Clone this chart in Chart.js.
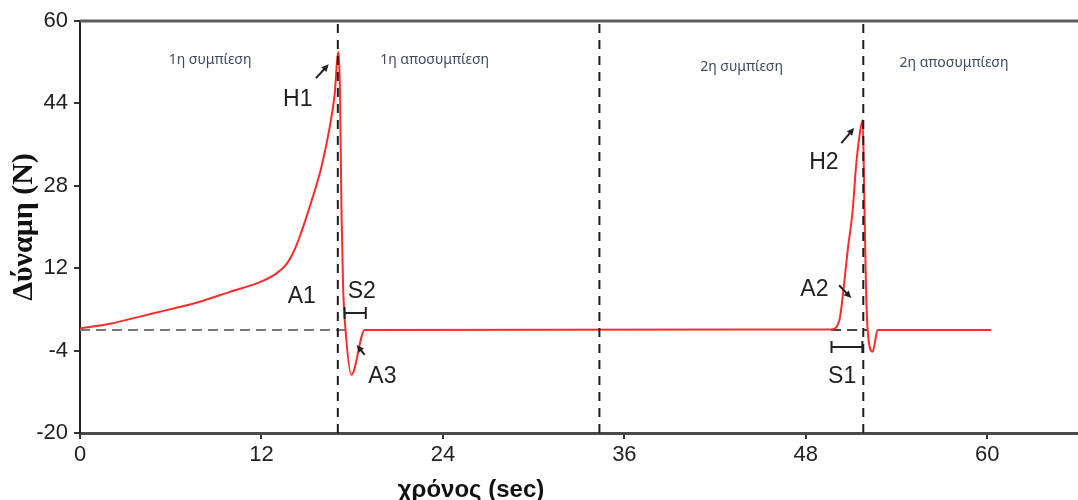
<!DOCTYPE html>
<html>
<head>
<meta charset="utf-8">
<script src="https://cdn.jsdelivr.net/npm/chart.js@4.4.1/dist/chart.umd.min.js"></script>
<style>
html, body { margin: 0; padding: 0; background: #fff; }
#wrap { width: 1078px; height: 500px; }
</style>
</head>
<body>
<div id="wrap"><canvas id="tpaChart"></canvas></div>
<script>
// texture profile curve
const timeSec = [0, 1.98, 3.96, 5.95, 7.93, 9.91, 11.9, 13.0, 13.66, 14.1, 14.54, 15.2,
    15.97, 16.52, 16.85, 17.07, 17.2, 17.29, 17.4, 17.56, 17.95, 18.83,
    49.67, 50.22, 50.44, 50.77, 51.1, 51.32, 51.54, 51.76, 51.87, 51.98, 52.09, 52.42, 52.75, 60.26];
const forceN = [0.3, 1.2, 2.6, 4.0, 5.5, 7.4, 9.3, 11.0, 12.8, 15.0, 18.2, 24.0,
    31.7, 39.5, 46.0, 54.0, 45.3, 23.3, 8.4, 0, -8.7, 0,
    0.1, 1.9, 6.5, 15.5, 23.3, 31.7, 37.5, 40.8, 25.2, 8.4, 0, -4.2, 0, 0];

const phaseBoundaries = [17.05, 34.35, 51.8];
const phaseNames = ['1η συμπίεση', '1η αποσυμπίεση', '2η συμπίεση', '2η αποσυμπίεση'];
const baselineSpans = [[0, 17.56], [49.67, 52.09]];

const xTicks = [0, 12, 24, 36, 48, 60];
const yTicks = [-20, -4, 12, 28, 44, 60];

// where the notes go (data units)
const phaseLabelPos = [[8.6, 52.4], [23.45, 52.4], [43.75, 51.1], [57.8, 51.8]];
const letterNotes = [
    { text: 'H1', at: [14.4, 44.7] },
    { text: 'A1', at: [14.67, 6.4] },
    { text: 'S2', at: [18.63, 7.4] },
    { text: 'A3', at: [20.0, -9.1] },
    { text: 'H2', at: [49.2, 32.4] },
    { text: 'A2', at: [48.57, 7.8] },
    { text: 'S1', at: [50.4, -9.1] }
];
const arrows = [
    { from: [15.6, 48.9], to: [16.45, 51.6] },
    { from: [18.83, -4.85], to: [18.3, -2.9] },
    { from: [50.35, 36.3], to: [51.2, 39.2] },
    { from: [50.2, 8.7], to: [51.0, 6.2] }
];
const brackets = [
    { x0: 17.5, x1: 18.9, y: 3.3 },
    { x0: 49.7, x1: 51.74, y: -3.3 }
];

const tickFont = { family: "'Liberation Sans Narrow', 'Liberation Sans', Arial, sans-serif", size: 22 };

const datasets = [];
phaseBoundaries.forEach(b => {
    datasets.push({
        data: [{ x: b, y: -20 }, { x: b, y: 60 }],
        borderColor: '#1e1e1e', borderWidth: 2, borderDash: [9, 7],
        pointRadius: 0, fill: false
    });
});
datasets.push({
    data: timeSec.map((t, i) => ({ x: t, y: forceN[i] })),
    borderColor: '#ff2a2a', borderWidth: 2, pointRadius: 0,
    cubicInterpolationMode: 'monotone', fill: false
});
baselineSpans.forEach((s, i) => {
    datasets.push({
        data: [{ x: s[0], y: 0 }, { x: s[1], y: 0 }],
        borderColor: i === 0 ? '#7a7a7a' : '#444', borderWidth: 2, borderDash: [10, 6],
        pointRadius: 0, fill: false
    });
});

function drawArrow(ctx, x0, y0, x1, y1) {
    const a = Math.atan2(y1 - y0, x1 - x0);
    const h = 8;
    ctx.beginPath();
    ctx.moveTo(x0, y0);
    ctx.lineTo(x1 - Math.cos(a) * 4, y1 - Math.sin(a) * 4);
    ctx.stroke();
    ctx.beginPath();
    ctx.moveTo(x1, y1);
    ctx.lineTo(x1 - h * Math.cos(a - 0.45), y1 - h * Math.sin(a - 0.45));
    ctx.lineTo(x1 - h * Math.cos(a + 0.45), y1 - h * Math.sin(a + 0.45));
    ctx.closePath();
    ctx.fill();
}

const notesPlugin = {
    id: 'notes',
    afterDatasetsDraw(chart) {
        const { ctx, chartArea } = chart;
        const xs = chart.scales.x, ys = chart.scales.y;
        const px = v => xs.getPixelForValue(v), py = v => ys.getPixelForValue(v);
        ctx.save();

        // heavy grey frame line on top
        ctx.strokeStyle = '#5c5c5c';
        ctx.lineWidth = 3;
        ctx.beginPath();
        ctx.moveTo(chartArea.left, chartArea.top);
        ctx.lineTo(chartArea.right, chartArea.top);
        ctx.stroke();

        ctx.textAlign = 'center';
        ctx.textBaseline = 'middle';
        ctx.fillStyle = '#3f4a62';
        ctx.font = "14px 'Noto Sans', sans-serif";
        phaseNames.forEach((t, i) => ctx.fillText(t, px(phaseLabelPos[i][0]), py(phaseLabelPos[i][1])));

        ctx.fillStyle = '#222';
        ctx.font = "23px 'Liberation Sans Narrow', 'Liberation Sans', Arial, sans-serif";
        letterNotes.forEach(n => ctx.fillText(n.text, px(n.at[0]), py(n.at[1])));

        ctx.strokeStyle = '#222';
        ctx.lineWidth = 2;
        arrows.forEach(a => drawArrow(ctx, px(a.from[0]), py(a.from[1]), px(a.to[0]), py(a.to[1])));

        brackets.forEach(b => {
            const x0 = px(b.x0), x1 = px(b.x1), y = py(b.y);
            ctx.beginPath();
            ctx.moveTo(x0, y); ctx.lineTo(x1, y);
            ctx.moveTo(x0, y - 6); ctx.lineTo(x0, y + 6);
            ctx.moveTo(x1, y - 6); ctx.lineTo(x1, y + 6);
            ctx.stroke();
        });

        // x axis title, sits left of centre in the original
        ctx.fillStyle = '#111';
        ctx.font = "bold 24px 'Liberation Sans', Arial, sans-serif";
        ctx.fillText('χρόνος (sec)', px(25.86), chartArea.bottom + 57);

        ctx.restore();
    }
};

new Chart(document.getElementById('tpaChart'), {
    type: 'line',
    data: { datasets: datasets },
    options: {
        responsive: true,
        maintainAspectRatio: false,
        animation: false,
        layout: { padding: { top: 21, right: 0, left: 0, bottom: 0 } },
        plugins: { legend: { display: false }, tooltip: { enabled: false } },
        scales: {
            x: {
                type: 'linear', min: 0, max: 66,
                afterBuildTicks: s => { s.ticks = xTicks.map(v => ({ value: v })); },
                afterFit: s => { s.height = 67; },
                grid: { drawOnChartArea: false, drawTicks: true, tickLength: 6, color: '#333', lineWidth: 2 },
                border: { display: true, color: '#4a4a4a', width: 3 },
                ticks: { color: '#222', font: tickFont, padding: 3, maxRotation: 0 }
            },
            y: {
                type: 'linear', min: -20, max: 60,
                afterBuildTicks: s => { s.ticks = yTicks.map(v => ({ value: v })); },
                afterFit: s => { s.width = 80; },
                grid: { drawOnChartArea: false, drawTicks: true, tickLength: 6, color: '#333', lineWidth: 2 },
                border: { display: true, color: '#222', width: 2 },
                ticks: { color: '#222', font: tickFont, padding: 6 },
                title: {
                    display: true, text: 'Δύναμη (N)', color: '#111',
                    font: { family: "'Liberation Serif', 'Times New Roman', serif", size: 30, weight: 'bold' },
                    padding: { top: 6, bottom: 0 }
                }
            }
        }
    },
    plugins: [notesPlugin]
});
</script>
</body>
</html>
